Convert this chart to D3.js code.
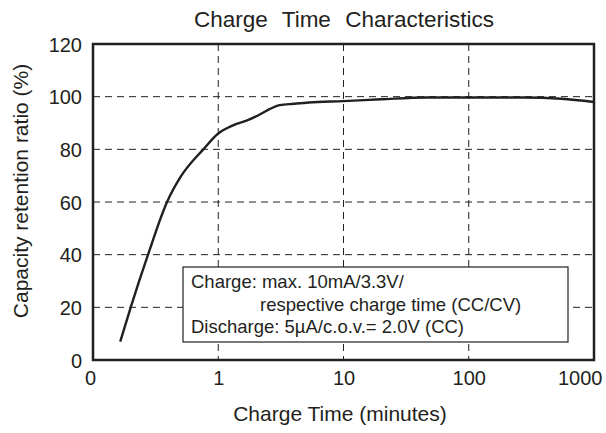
<!DOCTYPE html>
<html>
<head>
<meta charset="utf-8">
<script src="https://cdn.jsdelivr.net/npm/d3@7"></script>
<style>
  body { margin: 0; background: #fff; }
  text { font-family: "Liberation Sans", Arial, sans-serif; fill: #231f20; }
</style>
</head>
<body>
<div id="chart"></div>
<script>
// värden
const chargeTime = [0.165, 0.2, 0.275, 0.39, 0.5, 0.76, 1, 1.3, 1.7, 2.2, 2.5, 3.1, 4, 5.3, 10, 20, 45, 100, 270, 550, 1000];
const capacity = [7, 20, 40, 60, 69.5, 80, 86, 89, 91, 93.5, 95, 96.8, 97.3, 97.8, 98.3, 99, 99.7, 99.7, 99.7, 99.2, 98];
const xTicks = [0.1, 1, 10, 100, 1000];
const xTickLabels = ["0", "1", "10", "100", "1000"];
const yTicks = [0, 20, 40, 60, 80, 100, 120];
const legendLines = ["Charge: max. 10mA/3.3V/", "respective charge time (CC/CV)", "Discharge: 5\u00b5A/c.o.v.= 2.0V (CC)"];

const width = 606, height = 433;
const margin = { left: 93, right: 12, top: 44, bottom: 73 };

const svg = d3.select("#chart").append("svg")
  .attr("width", width)
  .attr("height", height);

const xScale = d3.scaleLog()
  .domain([0.1, 1000])
  .range([margin.left, width - margin.right]);
const yScale = d3.scaleLinear()
  .domain([0, 120])
  .range([height - margin.bottom, margin.top]);

// rutnät
const grid = svg.append("g")
  .attr("stroke", "#231f20")
  .attr("stroke-width", 1)
  .attr("stroke-dasharray", "7,5");
grid.selectAll("line.gx")
  .data(xTicks.slice(1, -1))
  .join("line")
  .attr("x1", d => xScale(d)).attr("x2", d => xScale(d))
  .attr("y1", yScale(120)).attr("y2", yScale(0));
grid.selectAll("line.gy")
  .data(yTicks.slice(1, -1))
  .join("line")
  .attr("x1", xScale(0.1)).attr("x2", xScale(1000))
  .attr("y1", d => yScale(d)).attr("y2", d => yScale(d));

// kurvan
const data = chargeTime.map((t, i) => ({ t: t, c: capacity[i] }));
const line = d3.line()
  .x(d => xScale(d.t))
  .y(d => yScale(d.c))
  .curve(d3.curveMonotoneX);
svg.append("path")
  .attr("d", line(data))
  .attr("fill", "none")
  .attr("stroke", "#231f20")
  .attr("stroke-width", 2.4);

// legend-rutan
const box = svg.append("g");
box.append("rect")
  .attr("x", 183).attr("y", 267)
  .attr("width", 385).attr("height", 75)
  .attr("fill", "#fff")
  .attr("stroke", "#231f20")
  .attr("stroke-width", 1.2);
box.selectAll("text")
  .data(legendLines)
  .join("text")
  .attr("x", (d, i) => i === 1 ? 260 : 191)
  .attr("y", (d, i) => 288 + i * 22.5)
  .attr("font-size", 18.5)
  .text(d => d);

// axlar
const yAxis = d3.axisLeft(yScale).tickValues(yTicks).tickSize(0).tickPadding(11);
const xAxis = d3.axisBottom(xScale).tickValues(xTicks).tickSize(0).tickPadding(11)
  .tickFormat((d, i) => xTickLabels[i]);

const gy = svg.append("g")
  .attr("transform", "translate(" + margin.left + ",0)")
  .call(yAxis);
const gx = svg.append("g")
  .attr("transform", "translate(0," + (height - margin.bottom) + ")")
  .call(xAxis);
[gx, gy].forEach(g => {
  g.select(".domain").remove();
  g.selectAll("text").attr("font-size", 20).attr("font-family", "Liberation Sans, Arial, sans-serif").attr("fill", "#231f20");
});
gy.selectAll("text").attr("dy", "0.36em");
// sista x-etiketten måste få plats
gx.selectAll(".tick text")
  .filter((d, i) => i === xTicks.length - 1)
  .attr("text-anchor", "end")
  .attr("dx", 8);
gx.selectAll(".tick text")
  .filter((d, i) => i === 0)
  .attr("dx", -3);

// ram
svg.append("rect")
  .attr("x", xScale(0.1)).attr("y", yScale(120))
  .attr("width", xScale(1000) - xScale(0.1))
  .attr("height", yScale(0) - yScale(120))
  .attr("fill", "none")
  .attr("stroke", "#231f20")
  .attr("stroke-width", 2.5);

// titlar
svg.append("text")
  .attr("x", 344).attr("y", 27)
  .attr("text-anchor", "middle")
  .attr("font-size", 22.5)
  .attr("word-spacing", 8)
  .text("Charge Time Characteristics");
svg.append("text")
  .attr("x", 340).attr("y", 421)
  .attr("text-anchor", "middle")
  .attr("font-size", 21)
  .text("Charge Time (minutes)");
svg.append("text")
  .attr("transform", "translate(28,191) rotate(-90)")
  .attr("text-anchor", "middle")
  .attr("font-size", 21)
  .text("Capacity retention ratio (%)");
</script>
</body>
</html>
